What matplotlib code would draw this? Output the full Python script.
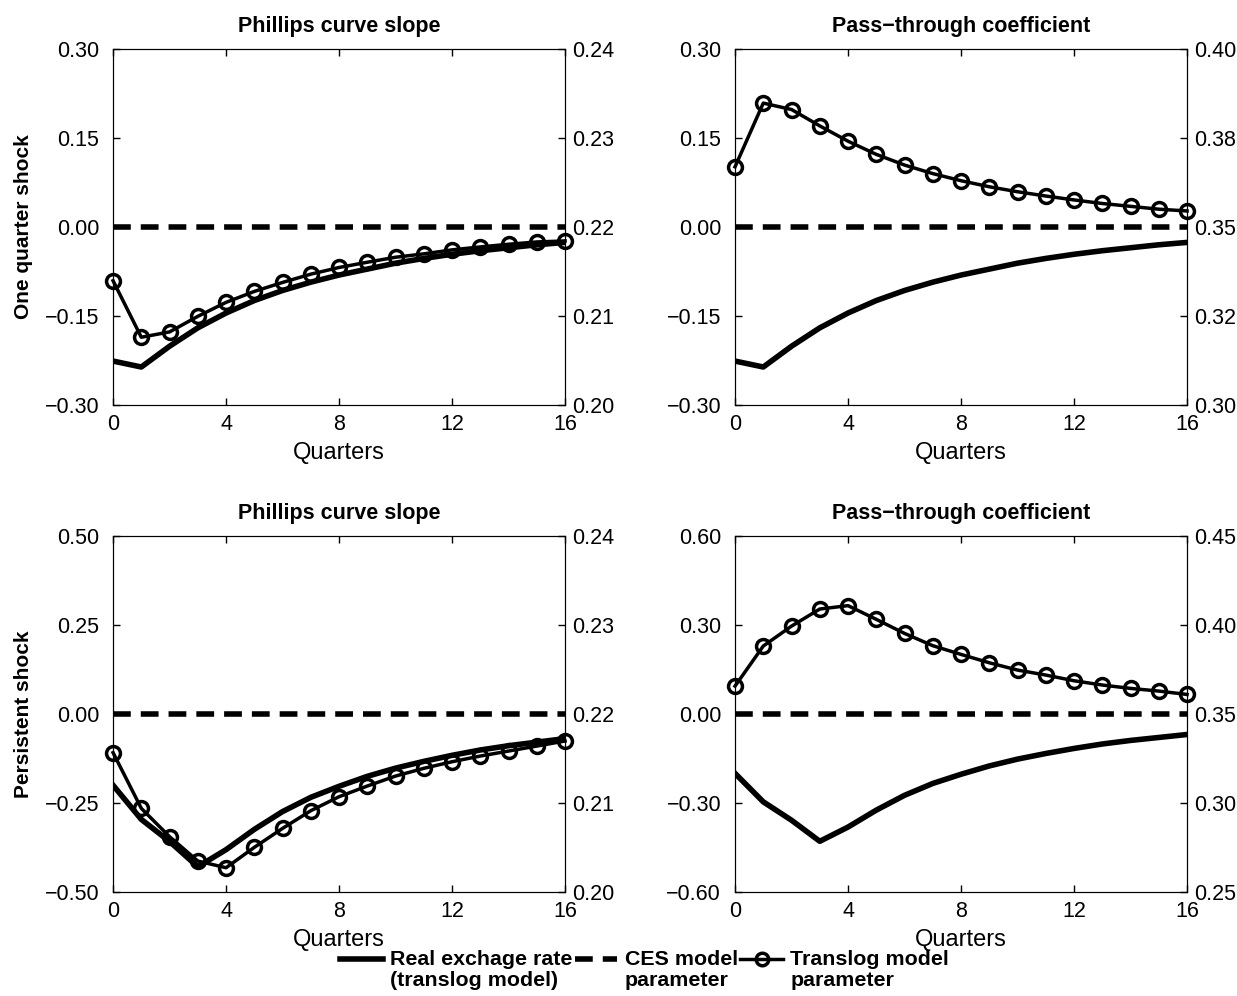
import matplotlib.pyplot as plt
import numpy as np
from matplotlib.legend_handler import HandlerLine2D

plt.rcParams['font.family'] = 'sans-serif'
plt.rcParams['font.sans-serif'] = ['Liberation Sans', 'DejaVu Sans']

quarters = np.arange(17)

# real exchange rate responses (left axis), one per shock type
rer_one = [-0.226, -0.236, -0.201, -0.170, -0.145, -0.124, -0.107, -0.093, -0.081,
           -0.071, -0.061, -0.053, -0.046, -0.040, -0.035, -0.030, -0.026]
rer_persistent = [-0.200, -0.296, -0.358, -0.429, -0.381, -0.324, -0.274, -0.234, -0.203,
                  -0.175, -0.152, -0.133, -0.116, -0.101, -0.089, -0.079, -0.069]

# translog model parameters (right axis)
phillips_one = [0.21396, 0.20761, 0.20821, 0.20996, 0.21153, 0.21276, 0.21377, 0.21470,
                0.21545, 0.21604, 0.21660, 0.21698, 0.21743, 0.21776, 0.21806, 0.21832, 0.21843]
passthru_one = [0.3669, 0.3848, 0.3830, 0.3784, 0.3741, 0.3704, 0.3674, 0.3650, 0.3630,
                0.3613, 0.3599, 0.3587, 0.3576, 0.3566, 0.3558, 0.3550, 0.3545]
phillips_pers = [0.21566, 0.2094, 0.20622, 0.20348, 0.20273, 0.20502, 0.20715, 0.20914,
                 0.21071, 0.21191, 0.21303, 0.21390, 0.21464, 0.21528, 0.21584, 0.21640, 0.21697]
passthru_pers = [0.3657, 0.3882, 0.3994, 0.4090, 0.4109, 0.4032, 0.3953, 0.3884, 0.3835,
                 0.3788, 0.3747, 0.3719, 0.3687, 0.3663, 0.3644, 0.3629, 0.3610]

# CES model parameters (constant)
ces_phillips = 0.22
ces_passthru = 0.35

titles = ["Phillips curve slope", "Pass\u2212through coefficient"]
row_labels = ["One quarter shock", "Persistent shock"]

left_ticks = [
    [[-0.30, -0.15, 0.0, 0.15, 0.30], ["\u22120.30", "\u22120.15", "0.00", "0.15", "0.30"]],
    [[-0.30, -0.15, 0.0, 0.15, 0.30], ["\u22120.30", "\u22120.15", "0.00", "0.15", "0.30"]],
    [[-0.50, -0.25, 0.0, 0.25, 0.50], ["\u22120.50", "\u22120.25", "0.00", "0.25", "0.50"]],
    [[-0.60, -0.30, 0.0, 0.30, 0.60], ["\u22120.60", "\u22120.30", "0.00", "0.30", "0.60"]],
]
right_ticks = [
    [[0.20, 0.21, 0.22, 0.23, 0.24], ["0.20", "0.21", "0.22", "0.23", "0.24"]],
    [[0.30, 0.325, 0.35, 0.375, 0.40], ["0.30", "0.32", "0.35", "0.38", "0.40"]],
    [[0.20, 0.21, 0.22, 0.23, 0.24], ["0.20", "0.21", "0.22", "0.23", "0.24"]],
    [[0.25, 0.30, 0.35, 0.40, 0.45], ["0.25", "0.30", "0.35", "0.40", "0.45"]],
]

rer_series = [rer_one, rer_one, rer_persistent, rer_persistent]
param_series = [phillips_one, passthru_one, phillips_pers, passthru_pers]
ces_values = [ces_phillips, ces_passthru, ces_phillips, ces_passthru]

DASH = (0, (3.2, 1.8))

fig = plt.figure(figsize=(12.37, 9.96), dpi=100)

lefts = [0.0914, 0.5942]
bottoms = [0.5934, 0.1044]
w, h = 0.3654, 0.3574

for k in range(4):
    r, c = divmod(k, 2)
    ax = fig.add_axes([lefts[c], bottoms[r], w, h])
    ax2 = ax.twinx()

    ax.plot(quarters, rer_series[k], color='black', lw=4)
    ax2.plot(quarters, [ces_values[k]] * len(quarters), color='black', lw=4, linestyle=DASH)
    ax2.plot(quarters, param_series[k], color='black', lw=2.5, marker='o', ms=10,
             mfc='none', mec='black', mew=2.5, clip_on=False)

    ax.set_xlim(0, 16)
    ax.set_xticks([0, 4, 8, 12, 16])
    ax.set_yticks(left_ticks[k][0])
    ax.set_yticklabels(left_ticks[k][1])
    ax.set_ylim(left_ticks[k][0][0], left_ticks[k][0][-1])
    ax2.set_yticks(right_ticks[k][0])
    ax2.set_yticklabels(right_ticks[k][1])
    ax2.set_ylim(right_ticks[k][0][0], right_ticks[k][0][-1])

    ax.tick_params(axis='x', direction='in', labelsize=15.5, length=5, width=1,
                   top=True, pad=6.5)
    ax.tick_params(axis='y', direction='in', labelsize=15.5, length=5, width=1, pad=10)
    ax2.tick_params(axis='y', direction='in', labelsize=15.5, length=5, width=1, pad=5)
    ax.set_xlabel("Quarters", fontsize=17, labelpad=5)
    ax.set_title(titles[c], fontsize=15.5, fontweight='bold', pad=12)
    if c == 0:
        ax.set_ylabel(row_labels[r], fontsize=15, fontweight='bold', labelpad=8)


# legend handles drawn level with the first line of each label
class HandlerTop(HandlerLine2D):
    def adjust_drawing_area(self, legend, orig_handle, xdescent, ydescent,
                            width, height, fontsize):
        xd, yd, wd, ht = super().adjust_drawing_area(legend, orig_handle, xdescent,
                                                     ydescent, width, height, fontsize)
        return xd, yd - 1.05 * fontsize, wd, ht


h1, = plt.plot([], [], color='black', lw=4)
h2, = plt.plot([], [], color='black', lw=4, linestyle=DASH)
h3, = plt.plot([], [], color='black', lw=2.5, marker='o', ms=9, mfc='none', mew=2.5)
leg = fig.legend([h1, h2, h3],
                 ["Real exchage rate\n(translog model)", "CES model\nparameter",
                  "Translog model\nparameter"],
                 loc='center', bbox_to_anchor=(0.521, 0.026), ncol=3, frameon=False,
                 prop={'weight': 'bold', 'size': 15.4}, handlelength=2.0,
                 handletextpad=0.35, columnspacing=0.1,
                 handler_map={h1: HandlerTop(), h2: HandlerTop(), h3: HandlerTop()})
for t in leg.get_texts():
    t.set_linespacing(1.12)

plt.savefig('out.png', dpi=100)
